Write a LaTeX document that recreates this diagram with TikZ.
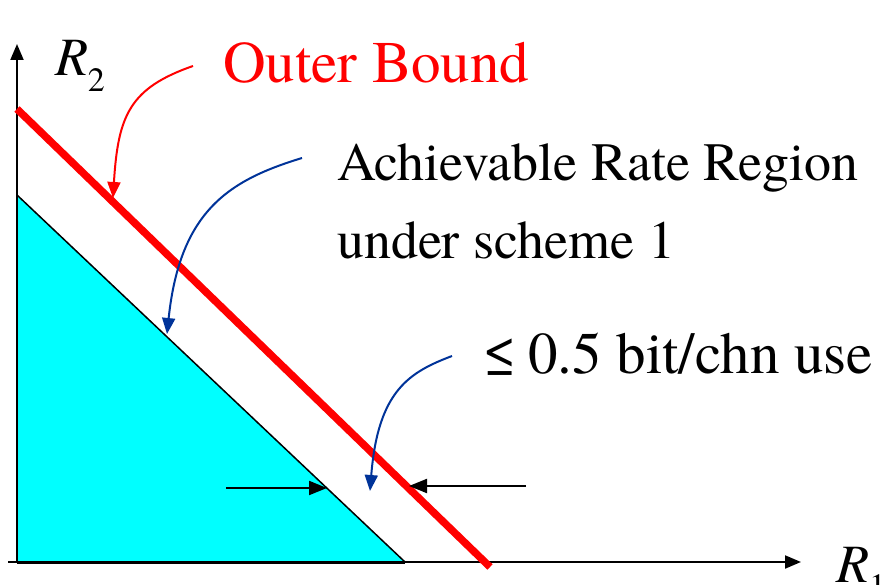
\documentclass[tikz,border=0pt]{standalone}
\usepackage{fontspec}
\setmainfont{texgyretermes}[Extension=.otf, UprightFont=*-regular, ItalicFont=*-italic, BoldFont=*-bold, BoldItalicFont=*-bolditalic]
\usetikzlibrary{arrows.meta}
\definecolor{myblue}{RGB}{0,51,153}
\definecolor{myred}{RGB}{255,0,0}
\definecolor{mycyan}{RGB}{0,255,255}
\tikzset{
  axisline/.style={line width=2pt, -{Triangle[length=16pt,width=13pt]}},
  gaparrow/.style={line width=2pt, -{Triangle[length=18pt,width=14pt]}},
  redpointer/.style={draw=myred, line width=2pt, -{Triangle[length=16pt,width=13pt]}},
  bluepointer/.style={draw=myblue, line width=2pt, -{Triangle[length=16pt,width=13pt]}},
  lbl/.style={anchor=base west, inner sep=0pt, outer sep=0pt}
}
\begin{document}
\begin{tikzpicture}[x=1pt,y=-1pt]
\useasboundingbox (0,0) rectangle (890,585);
\clip (0,0) rectangle (890,585);
% region
\coordinate (o) at (17,562);
\coordinate (ty) at (17,195);
\coordinate (tx) at (405,562);
\fill[mycyan] (o) -- (ty) -- (tx) -- cycle;
\draw[line width=1.5pt] (ty) -- (tx);
\draw[line width=3pt] (o) -- (tx);
% axes
\coordinate (xs) at (8,562);
\coordinate (xe) at (801,562);
\coordinate (ye) at (17,44);
\draw[axisline] (xs) -- (xe);
\draw[axisline] (o) -- (ye);
% outer bound
\coordinate (ra) at (17,109);
\coordinate (rb) at (490,567);
\draw[myred, line width=7.5pt] (ra) -- (rb);
% labels
\node[lbl] (r2) at (55,76) {\fontsize{54}{54}\selectfont\itshape R\raisebox{-0.28em}{\fontsize{34}{34}\selectfont\upshape 2}};
\node[lbl] (r1) at (836,582) {\fontsize{54}{54}\selectfont\itshape R\raisebox{-0.28em}{\fontsize{34}{34}\selectfont\upshape 1}};
\node[lbl, text=myred] (ob) at (223,83) {\fontsize{59}{59}\selectfont Outer Bound};
\node[lbl] (ar1) at (337,181) {\fontsize{54}{54}\selectfont Achievable Rate Region};
\node[lbl] (ar2) at (337,258) {\fontsize{54}{54}\selectfont under scheme 1};
\node[lbl] (gap) at (483,373) {\fontsize{59}{59}\selectfont ≤\kern0.2em0.5 bit/chn use};
% pointers
\coordinate (p1s) at (193,66);
\coordinate (p1e) at (113,198);
\draw[redpointer] (p1s) .. controls (130,88) and (118,115) .. (p1e);
\coordinate (p2s) at (302,158);
\coordinate (p2e) at (167,334);
\draw[bluepointer] (p2s) .. controls (230,180) and (180,210) .. (p2e);
\coordinate (p3s) at (452,356);
\coordinate (p3e) at (370,491);
\draw[bluepointer] (p3s) .. controls (410,372) and (378,390) .. (p3e);
% gap arrows
\coordinate (g1s) at (226,488);
\coordinate (g1e) at (327,488);
\coordinate (g2s) at (526,486);
\coordinate (g2e) at (409,486);
\draw[gaparrow] (g1s) -- (g1e);
\draw[gaparrow] (g2s) -- (g2e);
\end{tikzpicture}
\end{document}
